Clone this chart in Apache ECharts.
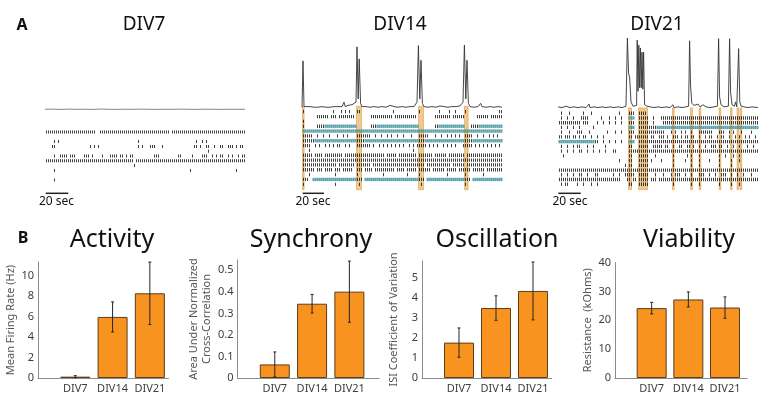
<!DOCTYPE html>
<html>
<head>
<meta charset="utf-8">
<script src="https://cdn.jsdelivr.net/npm/echarts@6/dist/echarts.min.js"></script>
<style>
  html, body { margin: 0; padding: 0; background: #fff; }
  #main { width: 772px; height: 397px; }
</style>
</head>
<body>
<div id="main"></div>
<script>
// ---- panel B data ----
var categories = ['DIV7', 'DIV14', 'DIV21'];
var activityMean = [0.13, 5.97, 8.28];
var activityErr = [0.1, 1.47, 3.05];
var synchronyMean = [0.063, 0.345, 0.401];
var synchronyErr = [0.058, 0.043, 0.142];
var oscillationMean = [1.76, 3.48, 4.33];
var oscillationErr = [0.73, 0.61, 1.44];
var viabilityMean = [24.2, 27.2, 24.4];
var viabilityErr = [2.0, 2.6, 3.7];

// ---- panel A data (time in bins 0..100, rows top->bottom) ----
// number = single spike, [a,b] = dense run, [a,b,'t'] = teal (bursting) run
var div7Rows = [
  [[0, 24], [27, 61], [63, 99]],
  [],
  [4, 6, 46, 75, 78, 80],
  [3, 4, 22, 24, 26, 46, 48, 52, 53, 54, 58, 74, 75, 77, 80, 81, 84, 87, 88, 91, 92, 93, 95, 97, 98],
  [81],
  [4, 7, 8, 9, 10, 12, 13, 14, 19, 20, 21, 23, 28, 32, 33, 34, 35, 37, 38, 40, 42, 43, 54, 55, 56, 66, 67, 73, 78, 79, 80, 83, 85, 87, 88, 91, 93, 96, 98, 99],
  [[0, 43], [45, 99]],
  [44],
  [4, 72, 95],
  [],
  [4]
];
var div7Trace = [[0, 0.12], [4, 0.14], [8, 0.1], [12, 0.15], [16, 0.11], [20, 0.13], [24, 0.1], [28, 0.16], [32, 0.12],
  [36, 0.1], [40, 0.14], [44, 0.11], [48, 0.15], [52, 0.12], [56, 0.1], [60, 0.13], [64, 0.11], [68, 0.15], [72, 0.12],
  [76, 0.1], [80, 0.14], [84, 0.12], [88, 0.1], [92, 0.13], [96, 0.11], [100, 0.12]];

var div14Rows = [
  [0, 15, 19, 21, 23, 27, 28, 45, 58, 68, 73, 76, 81, 98, 99],
  [[7, 12], [14, 16], [18, 25], [34, 44], [46, 56], [66, 73], [75, 80], [87, 92], [94, 99]],
  [0],
  [0, [7, 10], [11, 26, 't'], [34, 36], [37, 57, 't'], [66, 67], [68, 80, 't'], [84, 87], [88, 99, 't']],
  [[0, 99, 't']],
  [[0, 4], 7, 10, 13, 17, 20, 22, [27, 33], 36, 39, 42, 44, 47, 50, 54, [58, 62], 66, 69, 72, 74, 76, 78, [81, 84], 87, 90, 93, 95, 97],
  [[0, 5], [6, 26, 't'], [27, 30], [31, 57, 't'], [58, 60], [61, 80, 't'], [81, 84], [85, 99, 't']],
  [[0, 3], 6, 8, 11, 13, 15, 17, 18, 21, 23, [27, 33], 35, 38, 40, 42, 44, 46, 48, 50, 53, 55, [57, 61], 63, 65, 67, 70, 72, 74, 76, [80, 84], 86, 88, 90, 92, 94, 96, 98],
  [3, 55],
  [[0, 4], [6, 9], [11, 19], [21, 40], [42, 46], [48, 56], [58, 64], [66, 71], [73, 80], [82, 99]],
  [[0, 99]],
  [[0, 16], [18, 25], [27, 33], [35, 60], [62, 73], [75, 80], [82, 99]],
  [[0, 5], [7, 9], [11, 14], [16, 18], [20, 24], [27, 29], [31, 34], [36, 45], [47, 50], [52, 56], [58, 63], [65, 70], [72, 76], [78, 83], [85, 90], [92, 99]],
  [3, 16, 27, 40, 52, 58, 72, 81, 90],
  [[0, 2], [5, 26, 't'], [27, 29], [31, 57, 't'], [58, 60], [62, 80, 't'], [81, 83], [85, 99, 't']],
  [0, 16, 28, 59, 81]
];
var div14Bursts = [[0, 0.8], [27, 29.5], [58, 60.5], [81, 82.8]];
var div14Trace = [[0, 0.02], [0.5, 0.75], [1, 0.03], [2, 0.02], [4, 0.03], [6, 0.02], [8, 0.02], [10, 0.03], [12, 0.02],
  [14, 0.02], [16, 0.03], [18, 0.03], [19, 0.06], [20, 0.03], [21, 0.1], [21.6, 0.03], [23, 0.05], [24, 0.03], [25, 0.06],
  [26, 0.03], [27, 0.1], [27.5, 0.97], [28.1, 0.15], [28.6, 0.78], [29.3, 0.08], [30, 0.03], [32, 0.03], [34, 0.02],
  [36, 0.03], [38, 0.02], [40, 0.03], [42, 0.02], [44, 0.05], [44.6, 0.02], [46, 0.03], [48, 0.02], [50, 0.03],
  [52, 0.02], [54, 0.03], [56, 0.03], [57.5, 0.1], [58.2, 0.99], [58.9, 0.15], [59.5, 0.76], [60.2, 0.08], [61, 0.03],
  [63, 0.02], [65, 0.03], [67, 0.02], [69, 0.04], [71, 0.03], [73, 0.02], [75, 0.03], [77, 0.03], [79, 0.04],
  [80.5, 0.1], [81.2, 1.0], [81.9, 0.15], [82.5, 0.76], [83.2, 0.08], [84, 0.03], [86, 0.02], [88, 0.03], [89.3, 0.08],
  [90, 0.03], [92, 0.02], [94, 0.03], [96, 0.02], [98, 0.03], [99, 0.06], [100, 0.02]];

var div21Rows = [
  [1, 5, 12, 16, 30, [35, 37], [40, 43]],
  [1, 4, 7, [11, 14], 21, 25, 28, 31, [35, 37, 't'], [40, 44], 47, [51, 99]],
  [[0, 10], [12, 14], 19, 22, 25, 28, 31, [35, 37], [40, 44], 47, [52, 99]],
  [1, 4, 7, 10, 17, [35, 37, 't'], [40, 44], [45, 48], [49, 99, 't']],
  [1, 5, [9, 11], 15, 24, 28, 31, [35, 37], [40, 52], 56, 58, 61, 63, 66, [70, 76], [80, 82], 85, 87, 91, 96],
  [[0, 1], [3, 5], [7, 8], 10, [12, 13], 16, 19, 22, [35, 36], [38, 44], 46, 47, [50, 52], 54, [57, 59], 61, [63, 64], [66, 67], 70, 73, [75, 76], 79, [81, 82], 85, 88, 90, 93, 95, 98],
  [[0, 17, 't'], [18, 19], 22, 25, 28, 31, [35, 37, 't'], [40, 44], [45, 99]],
  [1, 4, 7, [9, 10], 14, 17, 23, [35, 36], [40, 44], [47, 51], [53, 54], 57, [60, 61], [64, 65], 67, 70, 73, [76, 78], [80, 81], 84, 87, 90, 94, 97],
  [1, 4, 7, [10, 11], 14, 17, 20, 23, [27, 28], [35, 99]],
  [2, [35, 36], [40, 44], 48, 57, 64, 66, 70, 80, 83, 87, 90],
  [30, [35, 36], [40, 44], 46, 51, 57, 63, 66, 70, 75, 80, 86, 90],
  [33, [35, 36], [40, 44], 57, 66, 70, 80, 86],
  [[0, 99]],
  [1, 4, 7, [10, 11], 14, [18, 19], 27, 30, [33, 34], [35, 37], [40, 44], 48, 52, 56, [58, 60], 63, 66, [70, 72], 75, 78, [81, 83], 86, 89, 92, 96],
  [[0, 30], [34, 35], [37, 38], [40, 44], [46, 48], [50, 99]],
  [1, [3, 4], 9, 12, 16, 19, [35, 36], [40, 44], 57, 66, 70, 80, 86, 90]
];
var div21Bursts = [[35, 36.5], [40, 44.5], [57, 57.8], [66, 67], [70.3, 71.2], [80.3, 81.2], [86, 86.8], [89.3, 90.1], [90.8, 91.6]];
var div21Trace = [[0, 0.03], [2, 0.02], [4, 0.04], [6, 0.02], [8, 0.03], [10, 0.02], [12, 0.03], [14, 0.02], [15.5, 0.07],
  [16, 0.02], [18, 0.03], [20, 0.02], [22, 0.03], [24, 0.02], [26, 0.03], [28, 0.02], [30, 0.03], [32, 0.02], [34, 0.04],
  [34.7, 1.0], [35.3, 0.5], [35.8, 0.45], [36.5, 0.1], [37.5, 0.04], [39.3, 0.05], [39.6, 0.97], [40.0, 0.25],
  [40.4, 0.9], [40.8, 0.3], [41.2, 0.86], [41.6, 0.3], [42.0, 0.8], [42.4, 0.28], [42.8, 0.8], [43.3, 0.06], [44.5, 0.04],
  [46, 0.03], [48, 0.02], [50, 0.03], [52, 0.02], [54, 0.03], [56, 0.02], [57.5, 0.06], [58, 0.02], [60, 0.03], [62, 0.02],
  [64, 0.03], [65.3, 0.04], [65.8, 0.96], [66.3, 0.32], [66.9, 0.08], [68, 0.05], [69, 0.04], [70, 0.07], [71, 0.03],
  [72.5, 0.06], [74, 0.03], [76, 0.02], [78, 0.03], [79.7, 0.04], [80.3, 0.99], [80.8, 0.17], [81.5, 0.06], [83, 0.03],
  [85.2, 0.04], [85.8, 0.99], [86.3, 0.24], [87, 0.06], [88.2, 0.04], [88.8, 0.1], [89.4, 0.03], [90.3, 0.85], [90.9, 0.1],
  [91.6, 0.04], [93, 0.03], [95, 0.02], [97, 0.03], [100, 0.02]];

var FONT = '"Noto Sans", "DejaVu Sans", sans-serif';
var grids = [], xAxes = [], yAxes = [], series = [];

function addGrid(g, x, y) {
  g.outerBoundsMode = 'none';
  grids.push(g);
  var i = grids.length - 1;
  x.gridIndex = i;
  y.gridIndex = i;
  xAxes.push(x);
  yAxes.push(y);
  return i;
}

function rasterPoints(rows) {
  var dark = [], teal = [];
  rows.forEach(function (row, r) {
    row.forEach(function (item) {
      if (typeof item === 'number') {
        dark.push([item + 0.5, r]);
        return;
      }
      var target = item[2] === 't' ? teal : dark;
      for (var i = item[0]; i <= item[1]; i++) target.push([i + 0.5, r]);
    });
  });
  return { dark: dark, teal: teal };
}

function tracePanel(left, top, height, data, color) {
  var gi = addGrid({ left: left, top: top, width: 200, height: height },
    { type: 'value', min: 0, max: 100, show: false },
    { type: 'value', min: 0, max: 1, show: false });
  series.push({
    type: 'line', xAxisIndex: gi, yAxisIndex: gi, data: data, showSymbol: false, silent: true,
    lineStyle: { color: color, width: 0.9 }, z: 4
  });
}

// left is offset by half a pixel so 1px spike ticks land on whole pixels
function rasterPanel(left, top, height, rows, bursts, tickH) {
  var gi = addGrid({ left: left + 0.5, top: top, width: 200, height: height },
    { type: 'value', min: 0, max: 100, show: false },
    { type: 'value', min: -0.5, max: rows.length - 0.5, inverse: true, show: false });
  var pts = rasterPoints(rows);
  series.push({
    type: 'custom', xAxisIndex: gi, yAxisIndex: gi, data: bursts, silent: true, z: 1,
    renderItem: function (params, api) {
      var cs = params.coordSys;
      var a = api.coord([api.value(0), 0])[0];
      var b = api.coord([api.value(1), 0])[0];
      return {
        type: 'rect',
        shape: { x: a, y: cs.y - 3, width: Math.max(b - a, 1), height: cs.height + 6 },
        style: { fill: 'rgba(226,158,52,0.55)', stroke: 'rgba(214,140,40,0.8)', lineWidth: 0.6 }
      };
    }
  });
  series.push({
    type: 'scatter', xAxisIndex: gi, yAxisIndex: gi, data: pts.teal, symbol: 'rect', silent: true,
    symbolSize: [2, tickH], itemStyle: { color: '#3a8c99' }, z: 2
  });
  series.push({
    type: 'scatter', xAxisIndex: gi, yAxisIndex: gi, data: pts.dark, symbol: 'rect', silent: true,
    symbolSize: [1, tickH], itemStyle: { color: '#111' }, z: 3
  });
}

function barPanel(p) {
  var gi = addGrid({ left: p.left, top: p.top, width: p.width, height: p.height },
    {
      type: 'value', min: 0, max: p.xMax, interval: 1,
      axisLine: { show: true, onZero: false, lineStyle: { color: '#8c8c8c', width: 1 } },
      axisTick: { show: false }, splitLine: { show: false },
      axisLabel: {
        margin: 5, color: '#3d3d3d', fontSize: 11, fontFamily: FONT,
        formatter: function (v) { return categories[v - 1] || ''; }
      }
    },
    {
      type: 'value', min: 0, max: p.yMax, interval: p.interval,
      axisLine: { show: true, lineStyle: { color: '#8c8c8c', width: 1 } },
      axisTick: { show: false }, splitLine: { show: false },
      axisLabel: {
        margin: 4, color: '#3d3d3d', fontSize: 11, fontFamily: FONT,
        formatter: function (v) {
          var k = v / p.interval;
          return Math.abs(k - Math.round(k)) < 1e-6 ? String(+v.toFixed(2)) : '';
        }
      },
      name: p.name, nameLocation: 'middle', nameGap: p.nameGap,
      nameTextStyle: { color: '#555', fontSize: 11, fontFamily: FONT, lineHeight: 13 }
    });
  series.push({
    type: 'bar', xAxisIndex: gi, yAxisIndex: gi, barWidth: 30, silent: true,
    data: p.mean.map(function (m, i) { return [i + 1, m]; }),
    itemStyle: { color: '#f7931e', borderColor: '#5c3d1c', borderWidth: 1 }
  });
  series.push({
    type: 'custom', xAxisIndex: gi, yAxisIndex: gi, silent: true, z: 5,
    data: p.mean.map(function (m, i) { return [i + 1, m - p.err[i], m + p.err[i]]; }),
    renderItem: function (params, api) {
      var hi = api.coord([api.value(0), api.value(2)]);
      var lo = api.coord([api.value(0), Math.max(api.value(1), 0)]);
      var st = { stroke: '#262626', lineWidth: 1 };
      return {
        type: 'group', children: [
          { type: 'line', shape: { x1: hi[0], y1: hi[1], x2: lo[0], y2: lo[1] }, style: st },
          { type: 'line', shape: { x1: hi[0] - 1.5, y1: hi[1], x2: hi[0] + 1.5, y2: hi[1] }, style: st },
          { type: 'line', shape: { x1: lo[0] - 1.5, y1: lo[1], x2: lo[0] + 1.5, y2: lo[1] }, style: st }
        ]
      };
    }
  });
}

// panel A
tracePanel(45, 104, 6, div7Trace, '#777');
rasterPanel(45, 129.6, 52.8, div7Rows, [], 3);
tracePanel(302, 45, 63.5, div14Trace, '#333');
rasterPanel(302, 109.3, 77.4, div14Rows, div14Bursts, 3.3);
tracePanel(558, 38, 71, div21Trace, '#333');
rasterPanel(558, 110.9, 75.7, div21Rows, div21Bursts, 3.3);

// panel B
barPanel({ left: 38, top: 262, width: 130.5, height: 116, xMax: 3.5, yMax: 11.34, interval: 2,
  mean: activityMean, err: activityErr, name: 'Mean Firing Rate (Hz)', nameGap: 19 });
barPanel({ left: 237.5, top: 260, width: 141.7, height: 118, xMax: 3.8, yMax: 0.548, interval: 0.1,
  mean: synchronyMean, err: synchronyErr, name: 'Area Under Normalized\nCross-Correlation', nameGap: 24 });
barPanel({ left: 422, top: 261, width: 129.5, height: 117, xMax: 3.5, yMax: 5.82, interval: 1,
  mean: oscillationMean, err: oscillationErr, name: 'ISI Coefficient of Variation', nameGap: 22 });
barPanel({ left: 615, top: 262.5, width: 132, height: 115.5, xMax: 3.6, yMax: 40, interval: 10,
  mean: viabilityMean, err: viabilityErr, name: 'Resistance  (kOhms)', nameGap: 18 });

function label(text, x, y, size, weight) {
  return {
    type: 'text', silent: true,
    style: { text: text, x: x, y: y, fill: '#111', align: 'center', verticalAlign: 'middle',
      font: (weight || 'normal') + ' ' + size + 'px ' + FONT }
  };
}
function scaleBar(x1, x2, y) {
  return { type: 'line', silent: true, shape: { x1: x1, y1: y, x2: x2, y2: y }, style: { stroke: '#222', lineWidth: 1.5 } };
}

var graphics = [
  label('A', 22, 25, 16, 'bold'),
  label('B', 23, 238, 16, 'bold'),
  label('DIV7', 144, 25, 19),
  label('DIV14', 400, 25, 19),
  label('DIV21', 657, 25, 19),
  label('Activity', 112, 240, 25),
  label('Synchrony', 311, 240, 25),
  label('Oscillation', 497, 240, 25),
  label('Viability', 689, 240, 25),
  scaleBar(45.7, 68.3, 193.3), label('20 sec', 56.5, 202, 12),
  scaleBar(302.7, 324, 193.3), label('20 sec', 313, 202, 12),
  scaleBar(558.3, 580.7, 193.3), label('20 sec', 570, 202, 12)
];

var chart = echarts.init(document.getElementById('main'), null, { renderer: 'canvas' });
chart.setOption({
  backgroundColor: '#fff',
  animation: false,
  grid: grids,
  xAxis: xAxes,
  yAxis: yAxes,
  series: series,
  graphic: graphics
});
</script>
</body>
</html>
